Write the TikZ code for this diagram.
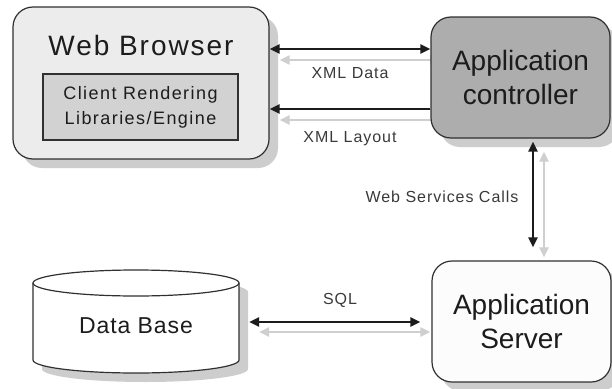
\documentclass[tikz,border=0pt]{standalone}
\usepackage{fontspec}
\setmainfont{Liberation Sans}
\newfontfamily\smallfam[LetterSpace=6]{Liberation Sans}
\newfontfamily\midfam[LetterSpace=8]{Liberation Sans}
\newfontfamily\wbfam[LetterSpace=7]{Liberation Sans}
\newfontfamily\dbfam[LetterSpace=4]{Liberation Sans}
\usetikzlibrary{arrows.meta,shadows,calc}
\definecolor{wbfill}{HTML}{ECECEC}
\definecolor{innerfill}{HTML}{D2D2D2}
\definecolor{acfill}{HTML}{ADADAD}
\definecolor{asfill}{HTML}{FCFCFC}
\definecolor{border}{HTML}{303030}
\definecolor{shadowgray}{HTML}{CDCDCD}
\definecolor{ghost}{HTML}{CFCFCF}
\definecolor{ink}{HTML}{1C1C1C}
\definecolor{labelink}{HTML}{3A3A3A}
\pgfdeclarelayer{bg}
\pgfsetlayers{bg,main}
\tikzset{
  box/.style={draw=border, line width=1.2pt, rounded corners=20pt, inner sep=0pt,
    drop shadow={shadow xshift=9pt, shadow yshift=-9pt, fill=shadowgray, opacity=1}},
  innerbox/.style={draw=border, line width=1.2pt, fill=innerfill, inner sep=0pt},
  bigtext/.style={text=ink, font=\fontsize{28}{34}\selectfont, align=center},
  midtext/.style={text=ink, font=\midfam\fontsize{18}{25}\selectfont, align=center},
  lbl/.style={text=labelink, font=\smallfam\fontsize{16}{19}\selectfont, anchor=base, inner sep=0pt},
  blk/.style={draw=ink, line width=2.8pt},
  gry/.style={draw=ghost, line width=2.5pt},
  tip/.tip={Triangle[length=10pt,width=9pt]},
}
\begin{document}
\begin{tikzpicture}[x=1pt,y=-1pt]
\useasboundingbox (0,0) rectangle (612,388);
\begin{pgfonlayer}{bg}
\fill[white] (0,0) rectangle (612,388);
\end{pgfonlayer}

% boxes
\node[box, fill=wbfill, minimum width=256pt, minimum height=152pt] (wb) at (141,83) {};
\node[bigtext, anchor=base, inner sep=0pt, font=\wbfam\fontsize{28}{34}\selectfont] (wbt) at (141,55) {Web Browser};
\node[innerbox, midtext, minimum width=195pt, minimum height=66pt] (eng) at (140.5,107) {Client Rendering\\Libraries/Engine};

\node[box, fill=acfill, bigtext, minimum width=179pt, minimum height=121pt] (ac) at (520.5,77.5) {Application\\controller};
\node[box, fill=asfill, bigtext, minimum width=179pt, minimum height=121pt] (as) at (521.5,321.5) {Application\\Server};

% database cylinder
\fill[shadowgray, shift={(9pt,-9pt)}] (33,283) -- (33,360)
  arc[start angle=180, end angle=360, x radius=103pt, y radius=13pt] -- (239,283)
  arc[start angle=0, end angle=180, x radius=103pt, y radius=13pt] -- cycle;
\filldraw[fill=white, draw=border, line width=1.2pt] (33,283) -- (33,360)
  arc[start angle=180, end angle=360, x radius=103pt, y radius=13pt] -- (239,283)
  arc[start angle=0, end angle=180, x radius=103pt, y radius=13pt] -- cycle;
\draw[draw=border, line width=1.2pt] (33,283)
  arc[start angle=180, end angle=360, x radius=103pt, y radius=13pt];
\node[text=ink, font=\dbfam\fontsize{23}{28}\selectfont, minimum width=206pt, inner sep=0pt] (db) at (136,326) {Data Base};

% helper coordinates
\coordinate (r1) at (0,49);
\coordinate (r2) at (0,109);
\coordinate (r3) at (0,322);
\coordinate (c3) at (533,0);

% ghost (shadow) arrows
\begin{pgfonlayer}{bg}
\draw[gry, tip-tip, transform canvas={shift={(10pt,-11pt)}}] (wb.east |- r1) -- (ac.west |- r1);
\draw[gry, -tip, transform canvas={shift={(10pt,-11pt)}}] (ac.west |- r2) -- (wb.east |- r2);
\draw[gry, tip-tip, shorten <=3pt, shorten >=13pt, transform canvas={shift={(11pt,-10pt)}}] (ac.south -| c3) -- (as.north -| c3);
\draw[gry, tip-tip, shorten <=10pt, shorten >=11pt, transform canvas={shift={(10pt,-10pt)}}] (db.east |- r3) -- (as.west |- r3);
\end{pgfonlayer}

% black arrows
\draw[blk, tip-tip] (wb.east |- r1) -- (ac.west |- r1);
\draw[blk, -tip] (ac.west |- r2) -- (wb.east |- r2);
\draw[blk, tip-tip, shorten <=3pt, shorten >=13pt] (ac.south -| c3) -- (as.north -| c3);
\draw[blk, tip-tip, shorten <=10pt, shorten >=11pt] (db.east |- r3) -- (as.west |- r3);

% labels
\node[lbl] (l1) at (350,78.7) {XML Data};
\node[lbl] (l2) at (350,142.7) {XML Layout};
\node[lbl] (l3) at (442,202.7) {Web Services Calls};
\node[lbl] (l4) at (340,304.7) {SQL};
\end{tikzpicture}
\end{document}
